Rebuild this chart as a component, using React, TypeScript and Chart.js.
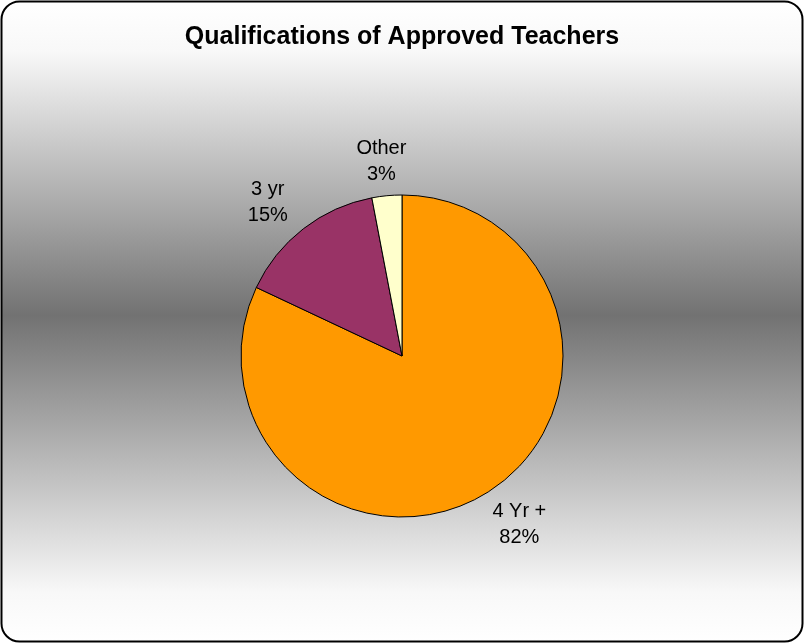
import React, { useEffect, useRef } from "react";
import { Chart, registerables } from "chart.js";

Chart.register(...registerables);

const categories: string[] = ["4 Yr +", "3 yr", "Other"];
const values: number[] = [82, 15, 3];
const sliceColors: string[] = ["#FF9900", "#993366", "#FFFFCC"];
const titleText = "Qualifications of Approved Teachers";

const FONT = "'Liberation Sans', Arial, Helvetica, sans-serif";

function roundRect(ctx: CanvasRenderingContext2D, x: number, y: number, w: number, h: number, r: number) {
  ctx.beginPath();
  ctx.moveTo(x + r, y);
  ctx.lineTo(x + w - r, y);
  ctx.arcTo(x + w, y, x + w, y + r, r);
  ctx.lineTo(x + w, y + h - r);
  ctx.arcTo(x + w, y + h, x + w - r, y + h, r);
  ctx.lineTo(x + r, y + h);
  ctx.arcTo(x, y + h, x, y + h - r, r);
  ctx.lineTo(x, y + r);
  ctx.arcTo(x, y, x + r, y, r);
  ctx.closePath();
}

const backgroundPlugin = {
  id: "bgPlugin",
  beforeDraw(chart: any) {
    const ctx: CanvasRenderingContext2D = chart.ctx;
    const w = chart.width;
    const h = chart.height;
    ctx.save();
    ctx.fillStyle = "#ffffff";
    ctx.fillRect(0, 0, w, h);
    const g = ctx.createLinearGradient(0, 0, 0, h);
    g.addColorStop(0, "#ffffff");
    g.addColorStop(0.08, "#f8f8f8");
    g.addColorStop(0.49, "#727272");
    g.addColorStop(0.92, "#f8f8f8");
    g.addColorStop(1, "#ffffff");
    roundRect(ctx, 1.5, 1.5, w - 4, h - 4, 18);
    ctx.fillStyle = g;
    ctx.fill();
    ctx.lineWidth = 2;
    ctx.strokeStyle = "#000000";
    ctx.stroke();
    ctx.restore();
  },
};

const labelPlugin = {
  id: "sliceLabels",
  afterDatasetsDraw(chart: any) {
    const ctx: CanvasRenderingContext2D = chart.ctx;
    const meta = chart.getDatasetMeta(0);
    const data: number[] = chart.data.datasets[0].data;
    const total = data.reduce((a, b) => a + b, 0);
    ctx.save();
    ctx.font = `20px ${FONT}`;
    ctx.fillStyle = "#000000";
    ctx.textAlign = "center";
    ctx.textBaseline = "middle";
    meta.data.forEach((arc: any, i: number) => {
      const p = arc.getProps(["x", "y", "startAngle", "endAngle", "outerRadius"], true);
      const mid = (p.startAngle + p.endAngle) / 2;
      const cx = p.x + Math.cos(mid) * (p.outerRadius + 58);
      const cy = p.y + Math.sin(mid) * (p.outerRadius + 36) + 2;
      const pct = Math.round((data[i] / total) * 100) + "%";
      ctx.fillText(chart.data.labels[i], cx, cy - 13);
      ctx.fillText(pct, cx, cy + 13);
    });
    ctx.restore();
  },
};

export default function App() {
  const ref = useRef<HTMLCanvasElement | null>(null);
  useEffect(() => {
    if (!ref.current) return;
    const chart = new Chart(ref.current, {
      type: "pie",
      data: {
        labels: categories,
        datasets: [
          {
            data: values,
            backgroundColor: sliceColors,
            borderColor: "#000000",
            borderWidth: 1,
            hoverOffset: 0,
            radius: 161,
          } as any,
        ],
      },
      options: {
        responsive: false,
        animation: false,
        devicePixelRatio: 1,
        events: [],
        layout: { padding: { top: 0, bottom: 14, left: 0, right: 1 } },
        plugins: {
          legend: { display: false },
          tooltip: { enabled: false },
          title: {
            display: true,
            text: titleText,
            color: "#000000",
            font: { family: FONT, size: 25, weight: "bold" },
            padding: { top: 22, bottom: 30 },
          },
        },
      },
      plugins: [backgroundPlugin, labelPlugin],
    });
    return () => chart.destroy();
  }, []);
  return (
    <div style={{ position: "fixed", left: 0, top: 0, width: 805, height: 644 }}>
      <canvas ref={ref} width={805} height={644} style={{ display: "block" }} />
    </div>
  );
}
